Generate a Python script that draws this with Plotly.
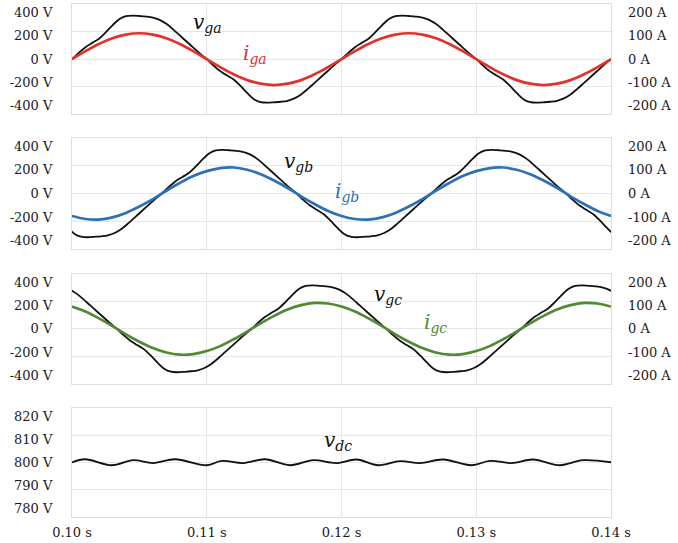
import numpy as np
import plotly.graph_objects as go

# ---------------- data ----------------
DT_V = 0.0005   # sampling step of the voltage readings [s]
DT_I = 0.001    # sampling step of the current readings [s]

t0_vga = 0.100
t0_vgb = 0.0966667
t0_vgc = 0.0933333
t0_i = 0.100

v_ga = [0, 46, 87, 118, 148, 194, 245, 290, 312, 316, 313, 309, 302, 285, 256, 216, 172, 128, 84, 40, 0,
        -46, -87, -118, -148, -194, -245, -290, -312, -316, -313, -309, -302, -285, -256, -216, -172, -128, -84, -40, 0,
        46, 87, 118, 148, 194, 245, 290, 312, 316, 313, 309, 302, 285, 256, 216, 172, 128, 84, 40, 0,
        -46, -87, -118, -148, -194, -245, -290, -312, -316, -313, -309, -302, -285, -256, -216, -172, -128, -84, -40, 0]

v_gb = [0, -46, -87, -118, -148, -194, -245, -290, -312, -316, -313, -309, -302, -285, -256, -216, -172, -128, -84, -40, 0,
        46, 87, 118, 148, 194, 245, 290, 312, 316, 313, 309, 302, 285, 256, 216, 172, 128, 84, 40, 0,
        -46, -87, -118, -148, -194, -245, -290, -312, -316, -313, -309, -302, -285, -256, -216, -172, -128, -84, -40, 0,
        46, 87, 118, 148, 194, 245, 290, 312, 316, 313, 309, 302, 285, 256, 216, 172, 128, 84, 40, 0,
        -46, -87, -118, -148, -194, -245, -290, -312, -316, -313, -309, -302, -285, -256, -216, -172, -128, -84, -40, 0]

v_gc = [0, 46, 87, 118, 148, 194, 245, 290, 312, 316, 313, 309, 302, 285, 256, 216, 172, 128, 84, 40, 0,
        -46, -87, -118, -148, -194, -245, -290, -312, -316, -313, -309, -302, -285, -256, -216, -172, -128, -84, -40, 0,
        46, 87, 118, 148, 194, 245, 290, 312, 316, 313, 309, 302, 285, 256, 216, 172, 128, 84, 40, 0,
        -46, -87, -118, -148, -194, -245, -290, -312, -316, -313, -309, -302, -285, -256, -216, -172, -128, -84, -40, 0,
        46, 87, 118, 148, 194, 245, 290, 312, 316, 313, 309, 302, 285, 256, 216, 172, 128, 84, 40, 0]

i_ga = [0, 29, 55, 76, 89, 94, 89, 76, 55, 29, 0, -29, -55, -76, -89, -94, -89, -76, -55, -29,
        0, 29, 55, 76, 89, 94, 89, 76, 55, 29, 0, -29, -55, -76, -89, -94, -89, -76, -55, -29, 0]
i_gb = [-81, -92, -94, -86, -70, -47, -20, 10, 38, 63, 81, 92, 94, 86, 70, 47, 20, -10, -38, -63,
        -81, -92, -94, -86, -70, -47, -20, 10, 38, 63, 81, 92, 94, 86, 70, 47, 20, -10, -38, -63, -81]
i_gc = [81, 63, 38, 10, -20, -47, -70, -86, -94, -92, -81, -63, -38, -10, 20, 47, 70, 86, 94, 92,
        81, 63, 38, 10, -20, -47, -70, -86, -94, -92, -81, -63, -38, -10, 20, 47, 70, 86, 94, 92, 81]

t_dc = [0.10000, 0.10096, 0.10295, 0.10455, 0.10603, 0.10764, 0.11000, 0.11111, 0.11271, 0.11432,
        0.11618, 0.11791, 0.11960, 0.12113, 0.12273, 0.12434, 0.12583, 0.12753, 0.12966, 0.13102,
        0.13263, 0.13421, 0.13621, 0.13792, 0.14000]
v_dc = [800.0, 801.2, 799.0, 800.85, 799.8, 801.2, 799.0, 800.6, 799.8, 801.2,
        799.0, 800.85, 799.8, 801.1, 799.0, 800.5, 799.8, 801.1, 799.0, 800.6,
        799.8, 801.1, 799.0, 800.85, 800.1]

x_ticks = [0.10, 0.11, 0.12, 0.13, 0.14]
x_ticktext = ["0.10 s", "0.11 s", "0.12 s", "0.13 s", "0.14 s"]
v_ticktext = ["400 V", "200 V", "0 V", "-200 V", "-400 V"]
i_ticktext = ["200 A", "100 A", "0 A", "-100 A", "-200 A"]
dc_ticktext = ["820 V", "810 V", "800 V", "790 V", "780 V"]

# ---------------- styling ----------------
FONT = "DejaVu Serif"
TXT = "#1a1a1a"
GRID = "#e6e6e6"
FRAME = "#dedede"
RED = "#e2322a"
BLUE = "#2c71b8"
GREEN = "#508a35"
BLACK = "#111111"

# label positions (the labels sit slightly inside the grid spacing in the reference)
v_tickpos = [338, 172, 0, -172, -338]
i_tickpos = [169, 86, 0, -86, -169]
dc_tickpos = [816.8, 808.5, 800, 791.5, 783.2]

domains = [[0.785, 1.0], [0.5227, 0.7384], [0.2597, 0.474], [0.0, 0.2124]]


def tgrid(t0, n, dt):
    return [t0 + k * dt for k in range(n)]


fig = go.Figure()
volts = [v_ga, v_gb, v_gc]
v_t0 = [t0_vga, t0_vgb, t0_vgc]
currents = [i_ga, i_gb, i_gc]
colors = [RED, BLUE, GREEN]

for k in range(3):
    xa = "x" if k == 0 else f"x{k+1}"
    ya = "y" if k == 0 else f"y{k+1}"
    fig.add_trace(go.Scatter(x=tgrid(v_t0[k], len(volts[k]), DT_V), y=volts[k], xaxis=xa, yaxis=ya,
                             mode="lines", line=dict(color=BLACK, width=1.8, shape="spline", smoothing=0.9),
                             showlegend=False, hoverinfo="skip"))
    fig.add_trace(go.Scatter(x=tgrid(t0_i, len(currents[k]), DT_I), y=currents[k], xaxis=xa, yaxis=f"y{k+5}",
                             mode="lines", line=dict(color=colors[k], width=2.7, shape="spline"),
                             showlegend=False, hoverinfo="skip"))

fig.add_trace(go.Scatter(x=t_dc, y=v_dc, xaxis="x4", yaxis="y4", mode="lines",
                         line=dict(color=BLACK, width=1.8, shape="spline"), showlegend=False, hoverinfo="skip"))

tickfont = dict(family=FONT, size=13, color=TXT)
layout = dict(
    width=678, height=543,
    margin=dict(l=72, r=67, t=4, b=26),
    paper_bgcolor="white", plot_bgcolor="white",
    showlegend=False,
)

for k in range(4):
    xkey = "xaxis" if k == 0 else f"xaxis{k+1}"
    ykey = "yaxis" if k == 0 else f"yaxis{k+1}"
    yname = "y" if k == 0 else f"y{k+1}"
    xname = "x" if k == 0 else f"x{k+1}"
    layout[xkey] = dict(domain=[0, 1], anchor=yname, range=[0.10, 0.14], tickmode="array",
                        tickvals=x_ticks, ticktext=x_ticktext, showticklabels=(k == 3),
                        showgrid=True, gridcolor=GRID, gridwidth=1, zeroline=False,
                        showline=True, mirror=True, linecolor=FRAME, linewidth=1, ticks="",
                        tickfont=tickfont, ticklabelstandoff=3, automargin=False)
    if k < 3:
        layout[ykey] = dict(domain=domains[k], anchor=xname, range=[-400, 400], tickmode="array",
                            tickvals=v_tickpos, ticktext=v_ticktext, showgrid=False, zeroline=False,
                            minor=dict(tickmode="array", tickvals=[-200, 0, 200], showgrid=True,
                                       gridcolor=GRID, gridwidth=1, ticks=""),
                            showline=True, mirror=True, linecolor=FRAME, linewidth=1, ticks="",
                            tickfont=tickfont, ticklabelstandoff=16, automargin=False)
        layout[f"yaxis{k+5}"] = dict(overlaying=yname, anchor=xname, side="right", range=[-200, 200],
                                     tickmode="array", tickvals=i_tickpos, ticktext=i_ticktext,
                                     showgrid=False, zeroline=False, showline=False, ticks="",
                                     tickfont=tickfont, ticklabelstandoff=16, automargin=False)
    else:
        layout[ykey] = dict(domain=domains[k], anchor=xname, range=[780, 820], tickmode="array",
                            tickvals=dc_tickpos, ticktext=dc_ticktext, showgrid=False, zeroline=False,
                            minor=dict(tickmode="array", tickvals=[790, 800, 810], showgrid=True,
                                       gridcolor=GRID, gridwidth=1, ticks=""),
                            showline=True, mirror=True, linecolor=FRAME, linewidth=1, ticks="",
                            tickfont=tickfont, ticklabelstandoff=16, automargin=False)

fig.update_layout(**layout)

labels = [
    ("<i>v</i><sub><i>ga</i></sub>", "x", "y", 0.10883, 262, BLACK),
    ("<i>i</i><sub><i>ga</i></sub>", "x", "y", 0.11254, 40, RED),
    ("<i>v</i><sub><i>gb</i></sub>", "x2", "y2", 0.11558, 228, BLACK),
    ("<i>i</i><sub><i>gb</i></sub>", "x2", "y2", 0.11937, 12, BLUE),
    ("<i>v</i><sub><i>gc</i></sub>", "x3", "y3", 0.12226, 248, BLACK),
    ("<i>i</i><sub><i>gc</i></sub>", "x3", "y3", 0.12597, 40, GREEN),
    ("<i>v</i><sub><i>dc</i></sub>", "x4", "y4", 0.11855, 808, BLACK),
]
for text, xr, yr, xv, yv, col in labels:
    fig.add_annotation(text=text, xref=xr, yref=yr, x=xv, y=yv, xanchor="left", yanchor="middle",
                       showarrow=False, font=dict(family=FONT, size=20, color=col))

fig.write_html("out.html", config={"displayModeBar": False},
               post_script="document.body.style.margin='0px';document.body.style.padding='0px';")
